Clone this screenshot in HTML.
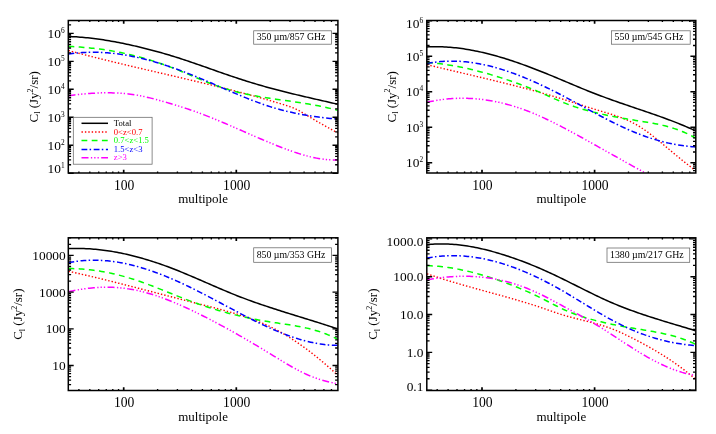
<!DOCTYPE html>
<html><head><meta charset="utf-8"><title>CIB power spectra</title>
<style>html,body{margin:0;padding:0;background:#fff;}svg{display:block;will-change:transform;}text{font-family:"Liberation Serif",serif;fill:#000;}</style></head><body>
<svg width="716" height="434" viewBox="0 0 716 434">
<rect x="0" y="0" width="716" height="434" fill="#fff"/>
<g id="panel1">
<clipPath id="clip1"><rect x="68.3" y="20.5" width="269.6" height="152.5"/></clipPath>
<g clip-path="url(#clip1)" fill="none" stroke-linejoin="round">
<path d="M68.5,36.52 L70.44,36.58 L72.37,36.66 L74.31,36.75 L76.25,36.86 L78.19,36.99 L80.12,37.13 L82.06,37.28 L84,37.45 L85.94,37.64 L87.87,37.83 L89.81,38.04 L91.75,38.26 L93.69,38.5 L95.62,38.75 L97.56,39.01 L99.5,39.28 L101.44,39.56 L103.37,39.86 L105.31,40.16 L107.25,40.48 L109.19,40.8 L111.12,41.14 L113.06,41.49 L115,41.85 L116.94,42.21 L118.87,42.59 L120.81,42.97 L122.75,43.36 L124.68,43.76 L126.62,44.17 L128.56,44.59 L130.5,45.01 L132.43,45.44 L134.37,45.88 L136.31,46.33 L138.25,46.78 L140.18,47.24 L142.12,47.71 L144.06,48.19 L146,48.67 L147.93,49.17 L149.87,49.67 L151.81,50.17 L153.75,50.69 L155.68,51.21 L157.62,51.74 L159.56,52.28 L161.5,52.83 L163.43,53.38 L165.37,53.95 L167.31,54.51 L169.25,55.09 L171.18,55.68 L173.12,56.27 L175.06,56.87 L176.99,57.48 L178.93,58.09 L180.87,58.72 L182.81,59.35 L184.74,59.99 L186.68,60.63 L188.62,61.28 L190.56,61.94 L192.49,62.6 L194.43,63.27 L196.37,63.94 L198.31,64.61 L200.24,65.29 L202.18,65.97 L204.12,66.65 L206.06,67.33 L207.99,68.01 L209.93,68.69 L211.87,69.38 L213.81,70.06 L215.74,70.74 L217.68,71.42 L219.62,72.1 L221.56,72.77 L223.49,73.44 L225.43,74.11 L227.37,74.78 L229.31,75.44 L231.24,76.09 L233.18,76.74 L235.12,77.39 L237.05,78.03 L238.99,78.67 L240.93,79.3 L242.87,79.93 L244.8,80.55 L246.74,81.17 L248.68,81.77 L250.62,82.38 L252.55,82.97 L254.49,83.56 L256.43,84.14 L258.37,84.71 L260.3,85.28 L262.24,85.84 L264.18,86.39 L266.12,86.93 L268.05,87.47 L269.99,88 L271.93,88.52 L273.87,89.04 L275.8,89.55 L277.74,90.06 L279.68,90.56 L281.62,91.05 L283.55,91.54 L285.49,92.03 L287.43,92.51 L289.36,92.99 L291.3,93.46 L293.24,93.93 L295.18,94.39 L297.11,94.86 L299.05,95.32 L300.99,95.77 L302.93,96.23 L304.86,96.68 L306.8,97.13 L308.74,97.58 L310.68,98.02 L312.61,98.47 L314.55,98.91 L316.49,99.36 L318.43,99.8 L320.36,100.24 L322.3,100.69 L324.24,101.13 L326.18,101.57 L328.11,102.02 L330.05,102.46 L331.99,102.91 L333.93,103.36 L335.86,103.81 L337.8,104.26" stroke="#000000" stroke-width="1.5"/>
<path d="M68.5,50.52 L70.44,51.04 L72.37,51.56 L74.31,52.08 L76.25,52.59 L78.19,53.1 L80.12,53.61 L82.06,54.11 L84,54.61 L85.94,55.11 L87.87,55.61 L89.81,56.11 L91.75,56.6 L93.69,57.09 L95.62,57.58 L97.56,58.06 L99.5,58.55 L101.44,59.03 L103.37,59.51 L105.31,59.98 L107.25,60.46 L109.19,60.93 L111.12,61.41 L113.06,61.88 L115,62.35 L116.94,62.81 L118.87,63.28 L120.81,63.74 L122.75,64.21 L124.68,64.67 L126.62,65.13 L128.56,65.59 L130.5,66.05 L132.43,66.5 L134.37,66.96 L136.31,67.42 L138.25,67.87 L140.18,68.32 L142.12,68.78 L144.06,69.23 L146,69.68 L147.93,70.13 L149.87,70.58 L151.81,71.04 L153.75,71.49 L155.68,71.94 L157.62,72.39 L159.56,72.84 L161.5,73.29 L163.43,73.74 L165.37,74.19 L167.31,74.64 L169.25,75.09 L171.18,75.54 L173.12,75.99 L175.06,76.44 L176.99,76.89 L178.93,77.35 L180.87,77.8 L182.81,78.25 L184.74,78.71 L186.68,79.16 L188.62,79.62 L190.56,80.08 L192.49,80.54 L194.43,81 L196.37,81.46 L198.31,81.92 L200.24,82.38 L202.18,82.85 L204.12,83.31 L206.06,83.78 L207.99,84.25 L209.93,84.72 L211.87,85.19 L213.81,85.67 L215.74,86.14 L217.68,86.62 L219.62,87.1 L221.56,87.58 L223.49,88.07 L225.43,88.55 L227.37,89.04 L229.31,89.53 L231.24,90.03 L233.18,90.52 L235.12,91.02 L237.05,91.52 L238.99,92.03 L240.93,92.54 L242.87,93.05 L244.8,93.56 L246.74,94.08 L248.68,94.6 L250.62,95.12 L252.55,95.65 L254.49,96.18 L256.43,96.71 L258.37,97.25 L260.3,97.79 L262.24,98.34 L264.18,98.89 L266.12,99.44 L268.05,100 L269.99,100.57 L271.93,101.13 L273.87,101.71 L275.8,102.28 L277.74,102.86 L279.68,103.45 L281.62,104.04 L283.55,104.64 L285.49,105.24 L287.43,105.86 L289.36,106.51 L291.3,107.2 L293.24,107.96 L295.18,108.78 L297.11,109.7 L299.05,110.71 L300.99,111.8 L302.93,112.94 L304.86,114.11 L306.8,115.29 L308.74,116.46 L310.68,117.62 L312.61,118.77 L314.55,119.9 L316.49,121.03 L318.43,122.15 L320.36,123.26 L322.3,124.36 L324.24,125.45 L326.18,126.54 L328.11,127.62 L330.05,128.7 L331.99,129.77 L333.93,130.84 L335.86,131.91 L337.8,132.98" stroke="#ff0000" stroke-width="1.4" stroke-dasharray="1.4 2.0"/>
<path d="M68.5,46.33 L70.44,46.43 L72.37,46.54 L74.31,46.65 L76.25,46.78 L78.19,46.91 L80.12,47.06 L82.06,47.21 L84,47.38 L85.94,47.55 L87.87,47.74 L89.81,47.93 L91.75,48.13 L93.69,48.35 L95.62,48.58 L97.56,48.82 L99.5,49.06 L101.44,49.32 L103.37,49.6 L105.31,49.88 L107.25,50.18 L109.19,50.48 L111.12,50.8 L113.06,51.13 L115,51.48 L116.94,51.84 L118.87,52.21 L120.81,52.59 L122.75,52.98 L124.68,53.39 L126.62,53.82 L128.56,54.25 L130.5,54.7 L132.43,55.17 L134.37,55.65 L136.31,56.14 L138.25,56.65 L140.18,57.17 L142.12,57.7 L144.06,58.26 L146,58.82 L147.93,59.4 L149.87,59.99 L151.81,60.6 L153.75,61.22 L155.68,61.85 L157.62,62.5 L159.56,63.16 L161.5,63.83 L163.43,64.51 L165.37,65.21 L167.31,65.92 L169.25,66.64 L171.18,67.37 L173.12,68.11 L175.06,68.87 L176.99,69.63 L178.93,70.41 L180.87,71.19 L182.81,71.99 L184.74,72.79 L186.68,73.6 L188.62,74.41 L190.56,75.23 L192.49,76.05 L194.43,76.87 L196.37,77.69 L198.31,78.51 L200.24,79.32 L202.18,80.12 L204.12,80.92 L206.06,81.7 L207.99,82.48 L209.93,83.24 L211.87,83.99 L213.81,84.73 L215.74,85.45 L217.68,86.14 L219.62,86.82 L221.56,87.48 L223.49,88.11 L225.43,88.72 L227.37,89.31 L229.31,89.88 L231.24,90.43 L233.18,90.96 L235.12,91.47 L237.05,91.96 L238.99,92.44 L240.93,92.9 L242.87,93.34 L244.8,93.77 L246.74,94.19 L248.68,94.59 L250.62,94.98 L252.55,95.36 L254.49,95.72 L256.43,96.08 L258.37,96.42 L260.3,96.75 L262.24,97.08 L264.18,97.4 L266.12,97.71 L268.05,98.01 L269.99,98.31 L271.93,98.6 L273.87,98.89 L275.8,99.17 L277.74,99.45 L279.68,99.73 L281.62,100.01 L283.55,100.29 L285.49,100.56 L287.43,100.84 L289.36,101.11 L291.3,101.39 L293.24,101.67 L295.18,101.95 L297.11,102.24 L299.05,102.53 L300.99,102.83 L302.93,103.13 L304.86,103.44 L306.8,103.76 L308.74,104.08 L310.68,104.41 L312.61,104.75 L314.55,105.11 L316.49,105.47 L318.43,105.84 L320.36,106.23 L322.3,106.63 L324.24,107.04 L326.18,107.47 L328.11,107.91 L330.05,108.36 L331.99,108.84 L333.93,109.33 L335.86,109.84 L337.8,110.36" stroke="#00ff00" stroke-width="1.5" stroke-dasharray="5.8 4.4"/>
<path d="M68.5,54.04 L70.44,53.76 L72.37,53.5 L74.31,53.27 L76.25,53.06 L78.19,52.88 L80.12,52.72 L82.06,52.58 L84,52.47 L85.94,52.38 L87.87,52.31 L89.81,52.27 L91.75,52.24 L93.69,52.24 L95.62,52.26 L97.56,52.3 L99.5,52.37 L101.44,52.45 L103.37,52.55 L105.31,52.68 L107.25,52.82 L109.19,52.98 L111.12,53.17 L113.06,53.37 L115,53.59 L116.94,53.83 L118.87,54.09 L120.81,54.37 L122.75,54.66 L124.68,54.97 L126.62,55.3 L128.56,55.65 L130.5,56.02 L132.43,56.4 L134.37,56.79 L136.31,57.21 L138.25,57.64 L140.18,58.08 L142.12,58.55 L144.06,59.02 L146,59.51 L147.93,60.02 L149.87,60.54 L151.81,61.07 L153.75,61.62 L155.68,62.19 L157.62,62.76 L159.56,63.35 L161.5,63.95 L163.43,64.57 L165.37,65.2 L167.31,65.84 L169.25,66.49 L171.18,67.15 L173.12,67.83 L175.06,68.51 L176.99,69.21 L178.93,69.92 L180.87,70.63 L182.81,71.36 L184.74,72.1 L186.68,72.85 L188.62,73.61 L190.56,74.37 L192.49,75.15 L194.43,75.93 L196.37,76.72 L198.31,77.53 L200.24,78.33 L202.18,79.15 L204.12,79.97 L206.06,80.79 L207.99,81.62 L209.93,82.46 L211.87,83.3 L213.81,84.14 L215.74,84.98 L217.68,85.82 L219.62,86.67 L221.56,87.51 L223.49,88.35 L225.43,89.19 L227.37,90.03 L229.31,90.87 L231.24,91.7 L233.18,92.53 L235.12,93.36 L237.05,94.18 L238.99,94.99 L240.93,95.79 L242.87,96.59 L244.8,97.38 L246.74,98.16 L248.68,98.94 L250.62,99.7 L252.55,100.45 L254.49,101.19 L256.43,101.92 L258.37,102.63 L260.3,103.33 L262.24,104.02 L264.18,104.69 L266.12,105.35 L268.05,105.99 L269.99,106.61 L271.93,107.22 L273.87,107.8 L275.8,108.37 L277.74,108.93 L279.68,109.46 L281.62,109.98 L283.55,110.48 L285.49,110.97 L287.43,111.44 L289.36,111.9 L291.3,112.33 L293.24,112.76 L295.18,113.17 L297.11,113.57 L299.05,113.95 L300.99,114.31 L302.93,114.67 L304.86,115.01 L306.8,115.34 L308.74,115.65 L310.68,115.96 L312.61,116.25 L314.55,116.53 L316.49,116.8 L318.43,117.06 L320.36,117.3 L322.3,117.54 L324.24,117.77 L326.18,117.98 L328.11,118.19 L330.05,118.39 L331.99,118.58 L333.93,118.76 L335.86,118.93 L337.8,119.09" stroke="#0000ff" stroke-width="1.5" stroke-dasharray="5.8 2.3 1.5 2.6"/>
<path d="M68.5,95.71 L70.44,95.45 L72.37,95.21 L74.31,94.97 L76.25,94.74 L78.19,94.52 L80.12,94.32 L82.06,94.12 L84,93.94 L85.94,93.77 L87.87,93.61 L89.81,93.46 L91.75,93.32 L93.69,93.2 L95.62,93.1 L97.56,93.01 L99.5,92.93 L101.44,92.87 L103.37,92.83 L105.31,92.81 L107.25,92.8 L109.19,92.81 L111.12,92.83 L113.06,92.88 L115,92.94 L116.94,93.03 L118.87,93.13 L120.81,93.26 L122.75,93.4 L124.68,93.57 L126.62,93.76 L128.56,93.97 L130.5,94.21 L132.43,94.47 L134.37,94.75 L136.31,95.06 L138.25,95.39 L140.18,95.75 L142.12,96.13 L144.06,96.54 L146,96.96 L147.93,97.41 L149.87,97.88 L151.81,98.36 L153.75,98.86 L155.68,99.37 L157.62,99.9 L159.56,100.43 L161.5,100.98 L163.43,101.53 L165.37,102.09 L167.31,102.65 L169.25,103.21 L171.18,103.78 L173.12,104.36 L175.06,104.95 L176.99,105.54 L178.93,106.14 L180.87,106.74 L182.81,107.36 L184.74,107.99 L186.68,108.62 L188.62,109.27 L190.56,109.92 L192.49,110.59 L194.43,111.27 L196.37,111.96 L198.31,112.67 L200.24,113.39 L202.18,114.11 L204.12,114.85 L206.06,115.6 L207.99,116.36 L209.93,117.13 L211.87,117.91 L213.81,118.7 L215.74,119.49 L217.68,120.29 L219.62,121.1 L221.56,121.92 L223.49,122.74 L225.43,123.56 L227.37,124.39 L229.31,125.23 L231.24,126.07 L233.18,126.91 L235.12,127.75 L237.05,128.6 L238.99,129.45 L240.93,130.29 L242.87,131.14 L244.8,131.99 L246.74,132.84 L248.68,133.69 L250.62,134.54 L252.55,135.38 L254.49,136.22 L256.43,137.06 L258.37,137.9 L260.3,138.73 L262.24,139.56 L264.18,140.38 L266.12,141.19 L268.05,142 L269.99,142.81 L271.93,143.6 L273.87,144.39 L275.8,145.17 L277.74,145.94 L279.68,146.7 L281.62,147.46 L283.55,148.2 L285.49,148.93 L287.43,149.65 L289.36,150.35 L291.3,151.04 L293.24,151.72 L295.18,152.38 L297.11,153.02 L299.05,153.64 L300.99,154.24 L302.93,154.81 L304.86,155.37 L306.8,155.9 L308.74,156.4 L310.68,156.88 L312.61,157.32 L314.55,157.74 L316.49,158.13 L318.43,158.48 L320.36,158.8 L322.3,159.09 L324.24,159.34 L326.18,159.55 L328.11,159.73 L330.05,159.86 L331.99,159.95 L333.93,160 L335.86,160.01 L337.8,159.97" stroke="#ff00ff" stroke-width="1.5" stroke-dasharray="7 2.4 1.3 2 1.3 2 1.3 2.4"/>
</g>
<path d="M78.89,173v-1.6M78.89,20.5v1.6M89.8,173v-1.6M89.8,20.5v1.6M98.72,173v-1.6M98.72,20.5v1.6M106.26,173v-1.6M106.26,20.5v1.6M112.79,173v-1.6M112.79,20.5v1.6M118.55,173v-1.6M118.55,20.5v1.6M157.6,173v-1.6M157.6,20.5v1.6M177.42,173v-1.6M177.42,20.5v1.6M191.49,173v-1.6M191.49,20.5v1.6M202.4,173v-1.6M202.4,20.5v1.6M211.32,173v-1.6M211.32,20.5v1.6M218.86,173v-1.6M218.86,20.5v1.6M225.39,173v-1.6M225.39,20.5v1.6M231.15,173v-1.6M231.15,20.5v1.6M270.2,173v-1.6M270.2,20.5v1.6M290.02,173v-1.6M290.02,20.5v1.6M304.09,173v-1.6M304.09,20.5v1.6M315,173v-1.6M315,20.5v1.6M323.92,173v-1.6M323.92,20.5v1.6M331.46,173v-1.6M331.46,20.5v1.6M68.3,173.2h5.4M337.9,173.2h-5.4M68.3,164.78h2.8M337.9,164.78h-2.8M68.3,159.85h2.8M337.9,159.85h-2.8M68.3,156.36h2.8M337.9,156.36h-2.8M68.3,153.65h2.8M337.9,153.65h-2.8M68.3,151.44h2.8M337.9,151.44h-2.8M68.3,149.56h2.8M337.9,149.56h-2.8M68.3,147.94h2.8M337.9,147.94h-2.8M68.3,146.51h2.8M337.9,146.51h-2.8M68.3,145.23h5.4M337.9,145.23h-5.4M68.3,136.81h2.8M337.9,136.81h-2.8M68.3,131.88h2.8M337.9,131.88h-2.8M68.3,128.39h2.8M337.9,128.39h-2.8M68.3,125.68h2.8M337.9,125.68h-2.8M68.3,123.47h2.8M337.9,123.47h-2.8M68.3,121.59h2.8M337.9,121.59h-2.8M68.3,119.97h2.8M337.9,119.97h-2.8M68.3,118.54h2.8M337.9,118.54h-2.8M68.3,117.26h5.4M337.9,117.26h-5.4M68.3,108.84h2.8M337.9,108.84h-2.8M68.3,103.91h2.8M337.9,103.91h-2.8M68.3,100.42h2.8M337.9,100.42h-2.8M68.3,97.71h2.8M337.9,97.71h-2.8M68.3,95.5h2.8M337.9,95.5h-2.8M68.3,93.62h2.8M337.9,93.62h-2.8M68.3,92h2.8M337.9,92h-2.8M68.3,90.57h2.8M337.9,90.57h-2.8M68.3,89.29h5.4M337.9,89.29h-5.4M68.3,80.87h2.8M337.9,80.87h-2.8M68.3,75.94h2.8M337.9,75.94h-2.8M68.3,72.45h2.8M337.9,72.45h-2.8M68.3,69.74h2.8M337.9,69.74h-2.8M68.3,67.53h2.8M337.9,67.53h-2.8M68.3,65.65h2.8M337.9,65.65h-2.8M68.3,64.03h2.8M337.9,64.03h-2.8M68.3,62.6h2.8M337.9,62.6h-2.8M68.3,61.32h5.4M337.9,61.32h-5.4M68.3,52.9h2.8M337.9,52.9h-2.8M68.3,47.97h2.8M337.9,47.97h-2.8M68.3,44.48h2.8M337.9,44.48h-2.8M68.3,41.77h2.8M337.9,41.77h-2.8M68.3,39.56h2.8M337.9,39.56h-2.8M68.3,37.68h2.8M337.9,37.68h-2.8M68.3,36.06h2.8M337.9,36.06h-2.8M68.3,34.63h2.8M337.9,34.63h-2.8M68.3,33.35h5.4M337.9,33.35h-5.4M68.3,24.93h2.8M337.9,24.93h-2.8" stroke="#000" stroke-width="1.35" fill="none"/>
<path d="M123.7,173v-3.2M123.7,20.5v3.2M236.3,173v-3.2M236.3,20.5v3.2" stroke="#000" stroke-width="1.7" fill="none"/>
<rect x="68.3" y="20.5" width="269.6" height="152.5" fill="none" stroke="#000" stroke-width="1.5"/>
<text transform="translate(124.1,189.9) scale(1,1.0)" font-size="13.6" text-anchor="middle">100</text>
<text transform="translate(236.7,189.9) scale(1,1.0)" font-size="13.6" text-anchor="middle">1000</text>
<text x="203.1" y="203.2" font-size="13.0" text-anchor="middle">multipole</text>
<text transform="translate(64.7,37.85) scale(1,0.98)" font-size="13.4" text-anchor="end">10<tspan font-size="7.4" dy="-5.0">6</tspan></text>
<text transform="translate(64.7,65.82) scale(1,0.98)" font-size="13.4" text-anchor="end">10<tspan font-size="7.4" dy="-5.0">5</tspan></text>
<text transform="translate(64.7,93.79) scale(1,0.98)" font-size="13.4" text-anchor="end">10<tspan font-size="7.4" dy="-5.0">4</tspan></text>
<text transform="translate(64.7,121.76) scale(1,0.98)" font-size="13.4" text-anchor="end">10<tspan font-size="7.4" dy="-5.0">3</tspan></text>
<text transform="translate(64.7,149.73) scale(1,0.98)" font-size="13.4" text-anchor="end">10<tspan font-size="7.4" dy="-5.0">2</tspan></text>
<text transform="translate(64.7,172.7) scale(1,0.98)" font-size="13.4" text-anchor="end">10<tspan font-size="7.4" dy="-5.0">1</tspan></text>
<text transform="translate(37.7,96.75) rotate(-90)" font-size="13.0" text-anchor="middle">C<tspan font-size="8" dy="2.6">l</tspan><tspan dy="-2.6"> (Jy</tspan><tspan font-size="8" dy="-5.2">2</tspan><tspan dy="5.2">/sr)</tspan></text>
<rect x="253.7" y="30.8" width="77.8" height="13.4" fill="#fff" stroke="#666" stroke-width="0.75"/>
<text x="256.7" y="40.2" font-size="9.8">350 µm/857 GHz</text>
<rect x="73.3" y="117.3" width="78.8" height="46.9" fill="#fff" stroke="#666" stroke-width="0.75"/>
<path d="M81.5,123.3H108" stroke="#000000" stroke-width="1.5" fill="none"/>
<text x="113.8" y="125.9" font-size="8.65" style="fill:#000000">Total</text>
<path d="M81.5,132H108" stroke="#ff0000" stroke-width="1.4" stroke-dasharray="1.4 2.0" fill="none"/>
<text x="113.8" y="134.6" font-size="8.65" style="fill:#ff0000">0&lt;z&lt;0.7</text>
<path d="M81.5,140.6H108" stroke="#00ff00" stroke-width="1.5" stroke-dasharray="5.8 4.4" fill="none"/>
<text x="113.8" y="143.2" font-size="8.65" style="fill:#00ff00">0.7&lt;z&lt;1.5</text>
<path d="M81.5,149.4H108" stroke="#0000ff" stroke-width="1.5" stroke-dasharray="5.8 2.3 1.5 2.6" fill="none"/>
<text x="113.8" y="152" font-size="8.65" style="fill:#0000ff">1.5&lt;z&lt;3</text>
<path d="M81.5,157.8H108" stroke="#ff00ff" stroke-width="1.5" stroke-dasharray="7 2.4 1.3 2 1.3 2 1.3 2.4" fill="none"/>
<text x="113.8" y="160.4" font-size="8.65" style="fill:#ff00ff">z&gt;3</text>
</g>
<g id="panel2">
<clipPath id="clip2"><rect x="426.8" y="20.5" width="269" height="152.5"/></clipPath>
<g clip-path="url(#clip2)" fill="none" stroke-linejoin="round">
<path d="M427,46.94 L428.93,46.85 L430.87,46.78 L432.8,46.74 L434.73,46.71 L436.67,46.71 L438.6,46.74 L440.53,46.78 L442.46,46.84 L444.4,46.93 L446.33,47.03 L448.26,47.16 L450.2,47.3 L452.13,47.47 L454.06,47.65 L456,47.86 L457.93,48.08 L459.86,48.32 L461.8,48.58 L463.73,48.86 L465.66,49.15 L467.59,49.47 L469.53,49.8 L471.46,50.14 L473.39,50.51 L475.33,50.89 L477.26,51.28 L479.19,51.69 L481.13,52.12 L483.06,52.56 L484.99,53.02 L486.93,53.49 L488.86,53.98 L490.79,54.48 L492.73,54.99 L494.66,55.52 L496.59,56.06 L498.52,56.61 L500.46,57.18 L502.39,57.75 L504.32,58.34 L506.26,58.95 L508.19,59.56 L510.12,60.18 L512.06,60.82 L513.99,61.47 L515.92,62.12 L517.86,62.79 L519.79,63.47 L521.72,64.15 L523.65,64.85 L525.59,65.55 L527.52,66.26 L529.45,66.98 L531.39,67.71 L533.32,68.45 L535.25,69.19 L537.19,69.95 L539.12,70.7 L541.05,71.47 L542.99,72.24 L544.92,73.02 L546.85,73.8 L548.78,74.59 L550.72,75.39 L552.65,76.18 L554.58,76.99 L556.52,77.8 L558.45,78.6 L560.38,79.42 L562.32,80.23 L564.25,81.05 L566.18,81.86 L568.12,82.68 L570.05,83.49 L571.98,84.3 L573.92,85.11 L575.85,85.92 L577.78,86.73 L579.71,87.53 L581.65,88.32 L583.58,89.12 L585.51,89.9 L587.45,90.68 L589.38,91.45 L591.31,92.22 L593.25,92.98 L595.18,93.73 L597.11,94.47 L599.05,95.21 L600.98,95.94 L602.91,96.67 L604.84,97.39 L606.78,98.1 L608.71,98.81 L610.64,99.51 L612.58,100.2 L614.51,100.89 L616.44,101.57 L618.38,102.24 L620.31,102.92 L622.24,103.58 L624.18,104.25 L626.11,104.91 L628.04,105.57 L629.97,106.22 L631.91,106.88 L633.84,107.53 L635.77,108.18 L637.71,108.84 L639.64,109.49 L641.57,110.14 L643.51,110.8 L645.44,111.46 L647.37,112.12 L649.31,112.78 L651.24,113.45 L653.17,114.12 L655.11,114.79 L657.04,115.47 L658.97,116.16 L660.9,116.85 L662.84,117.55 L664.77,118.25 L666.7,118.96 L668.64,119.68 L670.57,120.41 L672.5,121.15 L674.44,121.9 L676.37,122.66 L678.3,123.42 L680.24,124.2 L682.17,124.99 L684.1,125.8 L686.03,126.61 L687.97,127.44 L689.9,128.28 L691.83,129.14 L693.77,130.01 L695.7,130.9" stroke="#000000" stroke-width="1.5"/>
<path d="M427,64.69 L428.93,65.16 L430.87,65.62 L432.8,66.09 L434.73,66.55 L436.67,67.01 L438.6,67.47 L440.53,67.93 L442.46,68.39 L444.4,68.85 L446.33,69.3 L448.26,69.76 L450.2,70.21 L452.13,70.67 L454.06,71.12 L456,71.58 L457.93,72.03 L459.86,72.48 L461.8,72.93 L463.73,73.39 L465.66,73.84 L467.59,74.29 L469.53,74.75 L471.46,75.2 L473.39,75.66 L475.33,76.11 L477.26,76.57 L479.19,77.03 L481.13,77.48 L483.06,77.94 L484.99,78.4 L486.93,78.87 L488.86,79.33 L490.79,79.79 L492.73,80.26 L494.66,80.73 L496.59,81.2 L498.52,81.67 L500.46,82.14 L502.39,82.62 L504.32,83.1 L506.26,83.58 L508.19,84.06 L510.12,84.55 L512.06,85.04 L513.99,85.53 L515.92,86.02 L517.86,86.52 L519.79,87.02 L521.72,87.52 L523.65,88.03 L525.59,88.54 L527.52,89.05 L529.45,89.57 L531.39,90.09 L533.32,90.62 L535.25,91.14 L537.19,91.68 L539.12,92.21 L541.05,92.75 L542.99,93.3 L544.92,93.85 L546.85,94.4 L548.78,94.96 L550.72,95.53 L552.65,96.1 L554.58,96.67 L556.52,97.25 L558.45,97.83 L560.38,98.42 L562.32,99.02 L564.25,99.62 L566.18,100.22 L568.12,100.83 L570.05,101.44 L571.98,102.05 L573.92,102.67 L575.85,103.29 L577.78,103.91 L579.71,104.52 L581.65,105.14 L583.58,105.76 L585.51,106.37 L587.45,106.99 L589.38,107.6 L591.31,108.2 L593.25,108.81 L595.18,109.4 L597.11,109.99 L599.05,110.58 L600.98,111.16 L602.91,111.73 L604.84,112.31 L606.78,112.89 L608.71,113.47 L610.64,114.07 L612.58,114.68 L614.51,115.3 L616.44,115.95 L618.38,116.62 L620.31,117.32 L622.24,118.05 L624.18,118.82 L626.11,119.63 L628.04,120.47 L629.97,121.37 L631.91,122.31 L633.84,123.31 L635.77,124.36 L637.71,125.47 L639.64,126.65 L641.57,127.88 L643.51,129.17 L645.44,130.51 L647.37,131.89 L649.31,133.32 L651.24,134.78 L653.17,136.28 L655.11,137.81 L657.04,139.37 L658.97,140.94 L660.9,142.54 L662.84,144.15 L664.77,145.77 L666.7,147.4 L668.64,149.03 L670.57,150.65 L672.5,152.27 L674.44,153.88 L676.37,155.48 L678.3,157.06 L680.24,158.63 L682.17,160.18 L684.1,161.72 L686.03,163.26 L687.97,164.78 L689.9,166.3 L691.83,167.82 L693.77,169.33 L695.7,170.84" stroke="#ff0000" stroke-width="1.4" stroke-dasharray="1.4 2.0"/>
<path d="M427,62.55 L428.93,62.69 L430.87,62.84 L432.8,63.01 L434.73,63.2 L436.67,63.4 L438.6,63.61 L440.53,63.85 L442.46,64.09 L444.4,64.35 L446.33,64.63 L448.26,64.92 L450.2,65.23 L452.13,65.55 L454.06,65.88 L456,66.23 L457.93,66.59 L459.86,66.97 L461.8,67.36 L463.73,67.76 L465.66,68.17 L467.59,68.6 L469.53,69.04 L471.46,69.49 L473.39,69.95 L475.33,70.43 L477.26,70.92 L479.19,71.42 L481.13,71.93 L483.06,72.45 L484.99,72.98 L486.93,73.53 L488.86,74.08 L490.79,74.64 L492.73,75.22 L494.66,75.8 L496.59,76.4 L498.52,77 L500.46,77.62 L502.39,78.24 L504.32,78.87 L506.26,79.51 L508.19,80.16 L510.12,80.82 L512.06,81.49 L513.99,82.16 L515.92,82.85 L517.86,83.55 L519.79,84.26 L521.72,84.97 L523.65,85.7 L525.59,86.44 L527.52,87.19 L529.45,87.96 L531.39,88.73 L533.32,89.52 L535.25,90.31 L537.19,91.12 L539.12,91.94 L541.05,92.78 L542.99,93.62 L544.92,94.48 L546.85,95.35 L548.78,96.22 L550.72,97.09 L552.65,97.96 L554.58,98.82 L556.52,99.67 L558.45,100.51 L560.38,101.33 L562.32,102.12 L564.25,102.9 L566.18,103.65 L568.12,104.38 L570.05,105.09 L571.98,105.78 L573.92,106.44 L575.85,107.09 L577.78,107.72 L579.71,108.33 L581.65,108.92 L583.58,109.49 L585.51,110.05 L587.45,110.59 L589.38,111.11 L591.31,111.62 L593.25,112.12 L595.18,112.6 L597.11,113.07 L599.05,113.52 L600.98,113.96 L602.91,114.39 L604.84,114.81 L606.78,115.21 L608.71,115.61 L610.64,116 L612.58,116.38 L614.51,116.75 L616.44,117.11 L618.38,117.46 L620.31,117.81 L622.24,118.15 L624.18,118.49 L626.11,118.82 L628.04,119.14 L629.97,119.46 L631.91,119.78 L633.84,120.1 L635.77,120.41 L637.71,120.72 L639.64,121.03 L641.57,121.34 L643.51,121.65 L645.44,121.97 L647.37,122.3 L649.31,122.63 L651.24,122.97 L653.17,123.33 L655.11,123.7 L657.04,124.09 L658.97,124.49 L660.9,124.92 L662.84,125.36 L664.77,125.83 L666.7,126.33 L668.64,126.85 L670.57,127.4 L672.5,127.99 L674.44,128.6 L676.37,129.26 L678.3,129.95 L680.24,130.68 L682.17,131.44 L684.1,132.26 L686.03,133.11 L687.97,134.02 L689.9,134.97 L691.83,135.97 L693.77,137.03 L695.7,138.13" stroke="#00ff00" stroke-width="1.5" stroke-dasharray="5.8 4.4"/>
<path d="M427,63.49 L428.93,63.13 L430.87,62.79 L432.8,62.49 L434.73,62.22 L436.67,61.98 L438.6,61.77 L440.53,61.59 L442.46,61.44 L444.4,61.32 L446.33,61.23 L448.26,61.17 L450.2,61.13 L452.13,61.13 L454.06,61.15 L456,61.19 L457.93,61.27 L459.86,61.37 L461.8,61.5 L463.73,61.65 L465.66,61.83 L467.59,62.04 L469.53,62.27 L471.46,62.52 L473.39,62.8 L475.33,63.1 L477.26,63.42 L479.19,63.77 L481.13,64.14 L483.06,64.53 L484.99,64.95 L486.93,65.39 L488.86,65.84 L490.79,66.32 L492.73,66.82 L494.66,67.34 L496.59,67.88 L498.52,68.44 L500.46,69.02 L502.39,69.61 L504.32,70.23 L506.26,70.86 L508.19,71.51 L510.12,72.18 L512.06,72.87 L513.99,73.57 L515.92,74.29 L517.86,75.02 L519.79,75.77 L521.72,76.54 L523.65,77.32 L525.59,78.11 L527.52,78.92 L529.45,79.75 L531.39,80.58 L533.32,81.43 L535.25,82.3 L537.19,83.17 L539.12,84.06 L541.05,84.96 L542.99,85.87 L544.92,86.79 L546.85,87.72 L548.78,88.67 L550.72,89.62 L552.65,90.58 L554.58,91.55 L556.52,92.53 L558.45,93.52 L560.38,94.52 L562.32,95.53 L564.25,96.54 L566.18,97.56 L568.12,98.59 L570.05,99.62 L571.98,100.65 L573.92,101.69 L575.85,102.74 L577.78,103.78 L579.71,104.83 L581.65,105.87 L583.58,106.92 L585.51,107.97 L587.45,109.02 L589.38,110.06 L591.31,111.11 L593.25,112.14 L595.18,113.18 L597.11,114.21 L599.05,115.24 L600.98,116.26 L602.91,117.27 L604.84,118.28 L606.78,119.27 L608.71,120.26 L610.64,121.24 L612.58,122.21 L614.51,123.17 L616.44,124.11 L618.38,125.05 L620.31,125.97 L622.24,126.87 L624.18,127.77 L626.11,128.64 L628.04,129.51 L629.97,130.35 L631.91,131.18 L633.84,131.99 L635.77,132.78 L637.71,133.55 L639.64,134.3 L641.57,135.03 L643.51,135.75 L645.44,136.44 L647.37,137.11 L649.31,137.76 L651.24,138.39 L653.17,139 L655.11,139.58 L657.04,140.15 L658.97,140.7 L660.9,141.22 L662.84,141.72 L664.77,142.21 L666.7,142.67 L668.64,143.11 L670.57,143.52 L672.5,143.92 L674.44,144.29 L676.37,144.65 L678.3,144.98 L680.24,145.28 L682.17,145.57 L684.1,145.83 L686.03,146.07 L687.97,146.29 L689.9,146.49 L691.83,146.66 L693.77,146.81 L695.7,146.94" stroke="#0000ff" stroke-width="1.5" stroke-dasharray="5.8 2.3 1.5 2.6"/>
<path d="M427,102.29 L428.68,101.92 L430.35,101.56 L432.03,101.22 L433.71,100.9 L435.38,100.6 L437.06,100.32 L438.73,100.06 L440.41,99.81 L442.09,99.59 L443.76,99.38 L445.44,99.19 L447.12,99.01 L448.79,98.86 L450.47,98.72 L452.14,98.6 L453.82,98.5 L455.5,98.42 L457.17,98.35 L458.85,98.3 L460.53,98.27 L462.2,98.26 L463.88,98.27 L465.55,98.29 L467.23,98.33 L468.91,98.39 L470.58,98.46 L472.26,98.55 L473.94,98.66 L475.61,98.79 L477.29,98.94 L478.96,99.1 L480.64,99.27 L482.32,99.47 L483.99,99.68 L485.67,99.91 L487.35,100.16 L489.02,100.42 L490.7,100.7 L492.37,101 L494.05,101.31 L495.73,101.64 L497.4,101.99 L499.08,102.35 L500.76,102.73 L502.43,103.13 L504.11,103.54 L505.78,103.97 L507.46,104.42 L509.14,104.88 L510.81,105.36 L512.49,105.85 L514.17,106.36 L515.84,106.89 L517.52,107.43 L519.19,107.99 L520.87,108.56 L522.55,109.15 L524.22,109.76 L525.9,110.38 L527.58,111.02 L529.25,111.67 L530.93,112.34 L532.6,113.02 L534.28,113.72 L535.96,114.43 L537.63,115.15 L539.31,115.89 L540.99,116.63 L542.66,117.39 L544.34,118.16 L546.01,118.95 L547.69,119.74 L549.37,120.54 L551.04,121.36 L552.72,122.18 L554.4,123.01 L556.07,123.86 L557.75,124.71 L559.42,125.56 L561.1,126.43 L562.78,127.3 L564.45,128.18 L566.13,129.07 L567.81,129.96 L569.48,130.86 L571.16,131.76 L572.83,132.67 L574.51,133.58 L576.19,134.5 L577.86,135.42 L579.54,136.34 L581.22,137.27 L582.89,138.19 L584.57,139.12 L586.24,140.06 L587.92,140.99 L589.6,141.93 L591.27,142.86 L592.95,143.8 L594.63,144.74 L596.3,145.68 L597.98,146.61 L599.65,147.55 L601.33,148.49 L603.01,149.43 L604.68,150.38 L606.36,151.32 L608.04,152.26 L609.71,153.2 L611.39,154.14 L613.06,155.08 L614.74,156.02 L616.42,156.96 L618.09,157.9 L619.77,158.84 L621.45,159.77 L623.12,160.71 L624.8,161.65 L626.47,162.58 L628.15,163.51 L629.83,164.45 L631.5,165.38 L633.18,166.31 L634.86,167.23 L636.53,168.16 L638.21,169.08 L639.88,170.01 L641.56,170.93 L643.24,171.85 L644.91,172.76 L646.59,173.68 L648.27,174.59 L649.94,175.5 L651.62,176.4 L653.29,177.31 L654.97,178.21 L656.65,179.11 L658.32,180 L660,180.9" stroke="#ff00ff" stroke-width="1.5" stroke-dasharray="7 2.4 1.3 2 1.3 2 1.3 2.4"/>
</g>
<path d="M437.19,173v-1.6M437.19,20.5v1.6M448.1,173v-1.6M448.1,20.5v1.6M457.02,173v-1.6M457.02,20.5v1.6M464.56,173v-1.6M464.56,20.5v1.6M471.09,173v-1.6M471.09,20.5v1.6M476.85,173v-1.6M476.85,20.5v1.6M515.9,173v-1.6M515.9,20.5v1.6M535.72,173v-1.6M535.72,20.5v1.6M549.79,173v-1.6M549.79,20.5v1.6M560.7,173v-1.6M560.7,20.5v1.6M569.62,173v-1.6M569.62,20.5v1.6M577.16,173v-1.6M577.16,20.5v1.6M583.69,173v-1.6M583.69,20.5v1.6M589.45,173v-1.6M589.45,20.5v1.6M628.5,173v-1.6M628.5,20.5v1.6M648.32,173v-1.6M648.32,20.5v1.6M662.39,173v-1.6M662.39,20.5v1.6M673.3,173v-1.6M673.3,20.5v1.6M682.22,173v-1.6M682.22,20.5v1.6M689.76,173v-1.6M689.76,20.5v1.6M426.8,170.58h2.8M695.8,170.58h-2.8M426.8,168.2h2.8M695.8,168.2h-2.8M426.8,166.14h2.8M695.8,166.14h-2.8M426.8,164.32h2.8M695.8,164.32h-2.8M426.8,162.7h5.4M695.8,162.7h-5.4M426.8,152.01h2.8M695.8,152.01h-2.8M426.8,145.76h2.8M695.8,145.76h-2.8M426.8,141.33h2.8M695.8,141.33h-2.8M426.8,137.89h2.8M695.8,137.89h-2.8M426.8,135.08h2.8M695.8,135.08h-2.8M426.8,132.7h2.8M695.8,132.7h-2.8M426.8,130.64h2.8M695.8,130.64h-2.8M426.8,128.82h2.8M695.8,128.82h-2.8M426.8,127.2h5.4M695.8,127.2h-5.4M426.8,116.51h2.8M695.8,116.51h-2.8M426.8,110.26h2.8M695.8,110.26h-2.8M426.8,105.83h2.8M695.8,105.83h-2.8M426.8,102.39h2.8M695.8,102.39h-2.8M426.8,99.58h2.8M695.8,99.58h-2.8M426.8,97.2h2.8M695.8,97.2h-2.8M426.8,95.14h2.8M695.8,95.14h-2.8M426.8,93.32h2.8M695.8,93.32h-2.8M426.8,91.7h5.4M695.8,91.7h-5.4M426.8,81.01h2.8M695.8,81.01h-2.8M426.8,74.76h2.8M695.8,74.76h-2.8M426.8,70.33h2.8M695.8,70.33h-2.8M426.8,66.89h2.8M695.8,66.89h-2.8M426.8,64.08h2.8M695.8,64.08h-2.8M426.8,61.7h2.8M695.8,61.7h-2.8M426.8,59.64h2.8M695.8,59.64h-2.8M426.8,57.82h2.8M695.8,57.82h-2.8M426.8,56.2h5.4M695.8,56.2h-5.4M426.8,45.51h2.8M695.8,45.51h-2.8M426.8,39.26h2.8M695.8,39.26h-2.8M426.8,34.83h2.8M695.8,34.83h-2.8M426.8,31.39h2.8M695.8,31.39h-2.8M426.8,28.58h2.8M695.8,28.58h-2.8M426.8,26.2h2.8M695.8,26.2h-2.8M426.8,24.14h2.8M695.8,24.14h-2.8M426.8,22.32h2.8M695.8,22.32h-2.8M426.8,20.7h5.4M695.8,20.7h-5.4" stroke="#000" stroke-width="1.35" fill="none"/>
<path d="M482,173v-3.2M482,20.5v3.2M594.6,173v-3.2M594.6,20.5v3.2" stroke="#000" stroke-width="1.7" fill="none"/>
<rect x="426.8" y="20.5" width="269" height="152.5" fill="none" stroke="#000" stroke-width="1.5"/>
<text transform="translate(482.4,189.9) scale(1,1.0)" font-size="13.6" text-anchor="middle">100</text>
<text transform="translate(595,189.9) scale(1,1.0)" font-size="13.6" text-anchor="middle">1000</text>
<text x="561.3" y="203.2" font-size="13.0" text-anchor="middle">multipole</text>
<text transform="translate(423.2,28.3) scale(1,0.98)" font-size="13.4" text-anchor="end">10<tspan font-size="7.4" dy="-5.0">6</tspan></text>
<text transform="translate(423.2,60.7) scale(1,0.98)" font-size="13.4" text-anchor="end">10<tspan font-size="7.4" dy="-5.0">5</tspan></text>
<text transform="translate(423.2,96.2) scale(1,0.98)" font-size="13.4" text-anchor="end">10<tspan font-size="7.4" dy="-5.0">4</tspan></text>
<text transform="translate(423.2,131.7) scale(1,0.98)" font-size="13.4" text-anchor="end">10<tspan font-size="7.4" dy="-5.0">3</tspan></text>
<text transform="translate(423.2,167.2) scale(1,0.98)" font-size="13.4" text-anchor="end">10<tspan font-size="7.4" dy="-5.0">2</tspan></text>
<text transform="translate(395.5,96.75) rotate(-90)" font-size="13.0" text-anchor="middle">C<tspan font-size="8" dy="2.6">l</tspan><tspan dy="-2.6"> (Jy</tspan><tspan font-size="8" dy="-5.2">2</tspan><tspan dy="5.2">/sr)</tspan></text>
<rect x="611.6" y="30.8" width="78.6" height="13.4" fill="#fff" stroke="#666" stroke-width="0.75"/>
<text x="614.6" y="40.2" font-size="9.8">550 µm/545 GHz</text>
</g>
<g id="panel3">
<clipPath id="clip3"><rect x="68.3" y="237.8" width="269.6" height="152.7"/></clipPath>
<g clip-path="url(#clip3)" fill="none" stroke-linejoin="round">
<path d="M68.5,248.57 L70.44,248.5 L72.37,248.45 L74.31,248.42 L76.25,248.41 L78.19,248.42 L80.12,248.45 L82.06,248.49 L84,248.56 L85.94,248.64 L87.87,248.74 L89.81,248.86 L91.75,249 L93.69,249.15 L95.62,249.32 L97.56,249.51 L99.5,249.72 L101.44,249.94 L103.37,250.18 L105.31,250.44 L107.25,250.71 L109.19,251 L111.12,251.31 L113.06,251.63 L115,251.97 L116.94,252.32 L118.87,252.69 L120.81,253.08 L122.75,253.48 L124.68,253.89 L126.62,254.32 L128.56,254.77 L130.5,255.23 L132.43,255.71 L134.37,256.2 L136.31,256.7 L138.25,257.22 L140.18,257.75 L142.12,258.29 L144.06,258.85 L146,259.43 L147.93,260.01 L149.87,260.61 L151.81,261.22 L153.75,261.85 L155.68,262.49 L157.62,263.14 L159.56,263.8 L161.5,264.47 L163.43,265.16 L165.37,265.86 L167.31,266.57 L169.25,267.29 L171.18,268.02 L173.12,268.77 L175.06,269.52 L176.99,270.29 L178.93,271.07 L180.87,271.85 L182.81,272.64 L184.74,273.44 L186.68,274.25 L188.62,275.07 L190.56,275.89 L192.49,276.71 L194.43,277.54 L196.37,278.38 L198.31,279.22 L200.24,280.06 L202.18,280.9 L204.12,281.74 L206.06,282.59 L207.99,283.43 L209.93,284.28 L211.87,285.12 L213.81,285.96 L215.74,286.8 L217.68,287.64 L219.62,288.47 L221.56,289.3 L223.49,290.12 L225.43,290.93 L227.37,291.75 L229.31,292.55 L231.24,293.34 L233.18,294.13 L235.12,294.91 L237.05,295.68 L238.99,296.43 L240.93,297.18 L242.87,297.92 L244.8,298.65 L246.74,299.37 L248.68,300.08 L250.62,300.79 L252.55,301.48 L254.49,302.17 L256.43,302.85 L258.37,303.53 L260.3,304.2 L262.24,304.86 L264.18,305.51 L266.12,306.16 L268.05,306.81 L269.99,307.45 L271.93,308.08 L273.87,308.71 L275.8,309.33 L277.74,309.96 L279.68,310.57 L281.62,311.19 L283.55,311.8 L285.49,312.41 L287.43,313.02 L289.36,313.62 L291.3,314.22 L293.24,314.83 L295.18,315.43 L297.11,316.03 L299.05,316.62 L300.99,317.22 L302.93,317.82 L304.86,318.42 L306.8,319.02 L308.74,319.62 L310.68,320.23 L312.61,320.83 L314.55,321.44 L316.49,322.04 L318.43,322.65 L320.36,323.27 L322.3,323.89 L324.24,324.51 L326.18,325.13 L328.11,325.76 L330.05,326.39 L331.99,327.03 L333.93,327.67 L335.86,328.32 L337.8,328.97" stroke="#000000" stroke-width="1.5"/>
<path d="M68.5,271.27 L70.44,271.7 L72.37,272.12 L74.31,272.56 L76.25,272.99 L78.19,273.43 L80.12,273.87 L82.06,274.31 L84,274.76 L85.94,275.21 L87.87,275.66 L89.81,276.12 L91.75,276.58 L93.69,277.04 L95.62,277.51 L97.56,277.97 L99.5,278.44 L101.44,278.91 L103.37,279.39 L105.31,279.86 L107.25,280.34 L109.19,280.82 L111.12,281.31 L113.06,281.79 L115,282.28 L116.94,282.76 L118.87,283.25 L120.81,283.75 L122.75,284.24 L124.68,284.73 L126.62,285.23 L128.56,285.72 L130.5,286.22 L132.43,286.72 L134.37,287.22 L136.31,287.72 L138.25,288.22 L140.18,288.73 L142.12,289.23 L144.06,289.73 L146,290.24 L147.93,290.74 L149.87,291.25 L151.81,291.75 L153.75,292.26 L155.68,292.76 L157.62,293.27 L159.56,293.77 L161.5,294.28 L163.43,294.78 L165.37,295.29 L167.31,295.79 L169.25,296.3 L171.18,296.8 L173.12,297.3 L175.06,297.8 L176.99,298.31 L178.93,298.81 L180.87,299.31 L182.81,299.8 L184.74,300.3 L186.68,300.8 L188.62,301.29 L190.56,301.79 L192.49,302.28 L194.43,302.77 L196.37,303.26 L198.31,303.74 L200.24,304.23 L202.18,304.72 L204.12,305.21 L206.06,305.69 L207.99,306.18 L209.93,306.68 L211.87,307.17 L213.81,307.67 L215.74,308.17 L217.68,308.68 L219.62,309.19 L221.56,309.71 L223.49,310.24 L225.43,310.77 L227.37,311.31 L229.31,311.86 L231.24,312.42 L233.18,312.99 L235.12,313.57 L237.05,314.16 L238.99,314.76 L240.93,315.37 L242.87,315.99 L244.8,316.63 L246.74,317.29 L248.68,317.95 L250.62,318.64 L252.55,319.34 L254.49,320.06 L256.43,320.79 L258.37,321.55 L260.3,322.33 L262.24,323.14 L264.18,323.97 L266.12,324.82 L268.05,325.7 L269.99,326.61 L271.93,327.55 L273.87,328.52 L275.8,329.52 L277.74,330.55 L279.68,331.6 L281.62,332.69 L283.55,333.8 L285.49,334.95 L287.43,336.12 L289.36,337.31 L291.3,338.54 L293.24,339.79 L295.18,341.07 L297.11,342.38 L299.05,343.71 L300.99,345.07 L302.93,346.45 L304.86,347.86 L306.8,349.29 L308.74,350.75 L310.68,352.23 L312.61,353.74 L314.55,355.27 L316.49,356.83 L318.43,358.4 L320.36,360 L322.3,361.63 L324.24,363.27 L326.18,364.94 L328.11,366.63 L330.05,368.34 L331.99,370.07 L333.93,371.82 L335.86,373.59 L337.8,375.39" stroke="#ff0000" stroke-width="1.4" stroke-dasharray="1.4 2.0"/>
<path d="M68.5,268.53 L70.44,268.55 L72.37,268.59 L74.31,268.65 L76.25,268.73 L78.19,268.82 L80.12,268.94 L82.06,269.07 L84,269.22 L85.94,269.4 L87.87,269.59 L89.81,269.79 L91.75,270.02 L93.69,270.26 L95.62,270.53 L97.56,270.81 L99.5,271.11 L101.44,271.43 L103.37,271.77 L105.31,272.12 L107.25,272.49 L109.19,272.88 L111.12,273.29 L113.06,273.72 L115,274.17 L116.94,274.63 L118.87,275.11 L120.81,275.61 L122.75,276.13 L124.68,276.66 L126.62,277.21 L128.56,277.78 L130.5,278.37 L132.43,278.97 L134.37,279.6 L136.31,280.23 L138.25,280.89 L140.18,281.56 L142.12,282.24 L144.06,282.93 L146,283.64 L147.93,284.36 L149.87,285.09 L151.81,285.82 L153.75,286.57 L155.68,287.32 L157.62,288.08 L159.56,288.84 L161.5,289.61 L163.43,290.39 L165.37,291.16 L167.31,291.94 L169.25,292.72 L171.18,293.5 L173.12,294.28 L175.06,295.06 L176.99,295.83 L178.93,296.6 L180.87,297.37 L182.81,298.13 L184.74,298.89 L186.68,299.63 L188.62,300.38 L190.56,301.11 L192.49,301.83 L194.43,302.54 L196.37,303.24 L198.31,303.93 L200.24,304.61 L202.18,305.27 L204.12,305.93 L206.06,306.57 L207.99,307.2 L209.93,307.82 L211.87,308.43 L213.81,309.03 L215.74,309.61 L217.68,310.19 L219.62,310.75 L221.56,311.31 L223.49,311.85 L225.43,312.38 L227.37,312.91 L229.31,313.42 L231.24,313.92 L233.18,314.41 L235.12,314.89 L237.05,315.36 L238.99,315.82 L240.93,316.27 L242.87,316.72 L244.8,317.15 L246.74,317.57 L248.68,317.98 L250.62,318.39 L252.55,318.78 L254.49,319.17 L256.43,319.54 L258.37,319.91 L260.3,320.27 L262.24,320.62 L264.18,320.96 L266.12,321.29 L268.05,321.61 L269.99,321.92 L271.93,322.23 L273.87,322.53 L275.8,322.82 L277.74,323.11 L279.68,323.4 L281.62,323.68 L283.55,323.97 L285.49,324.26 L287.43,324.55 L289.36,324.85 L291.3,325.16 L293.24,325.47 L295.18,325.8 L297.11,326.15 L299.05,326.5 L300.99,326.88 L302.93,327.27 L304.86,327.69 L306.8,328.12 L308.74,328.58 L310.68,329.07 L312.61,329.58 L314.55,330.12 L316.49,330.7 L318.43,331.3 L320.36,331.94 L322.3,332.61 L324.24,333.32 L326.18,334.06 L328.11,334.84 L330.05,335.67 L331.99,336.53 L333.93,337.44 L335.86,338.4 L337.8,339.4" stroke="#00ff00" stroke-width="1.5" stroke-dasharray="5.8 4.4"/>
<path d="M68.5,262.71 L70.44,262.33 L72.37,261.98 L74.31,261.66 L76.25,261.38 L78.19,261.13 L80.12,260.91 L82.06,260.71 L84,260.55 L85.94,260.42 L87.87,260.32 L89.81,260.25 L91.75,260.2 L93.69,260.18 L95.62,260.2 L97.56,260.23 L99.5,260.3 L101.44,260.39 L103.37,260.51 L105.31,260.66 L107.25,260.83 L109.19,261.03 L111.12,261.25 L113.06,261.5 L115,261.77 L116.94,262.06 L118.87,262.38 L120.81,262.72 L122.75,263.09 L124.68,263.47 L126.62,263.88 L128.56,264.31 L130.5,264.77 L132.43,265.24 L134.37,265.73 L136.31,266.25 L138.25,266.78 L140.18,267.34 L142.12,267.91 L144.06,268.5 L146,269.12 L147.93,269.74 L149.87,270.39 L151.81,271.06 L153.75,271.74 L155.68,272.44 L157.62,273.15 L159.56,273.88 L161.5,274.63 L163.43,275.39 L165.37,276.17 L167.31,276.96 L169.25,277.77 L171.18,278.59 L173.12,279.42 L175.06,280.27 L176.99,281.13 L178.93,282 L180.87,282.88 L182.81,283.78 L184.74,284.68 L186.68,285.6 L188.62,286.53 L190.56,287.47 L192.49,288.42 L194.43,289.38 L196.37,290.35 L198.31,291.32 L200.24,292.31 L202.18,293.3 L204.12,294.3 L206.06,295.3 L207.99,296.32 L209.93,297.33 L211.87,298.35 L213.81,299.38 L215.74,300.4 L217.68,301.44 L219.62,302.47 L221.56,303.5 L223.49,304.54 L225.43,305.57 L227.37,306.61 L229.31,307.64 L231.24,308.67 L233.18,309.7 L235.12,310.73 L237.05,311.75 L238.99,312.77 L240.93,313.79 L242.87,314.8 L244.8,315.8 L246.74,316.8 L248.68,317.79 L250.62,318.78 L252.55,319.75 L254.49,320.72 L256.43,321.68 L258.37,322.62 L260.3,323.56 L262.24,324.48 L264.18,325.4 L266.12,326.3 L268.05,327.18 L269.99,328.06 L271.93,328.92 L273.87,329.76 L275.8,330.59 L277.74,331.4 L279.68,332.2 L281.62,332.98 L283.55,333.74 L285.49,334.48 L287.43,335.21 L289.36,335.91 L291.3,336.59 L293.24,337.25 L295.18,337.9 L297.11,338.51 L299.05,339.11 L300.99,339.68 L302.93,340.23 L304.86,340.75 L306.8,341.25 L308.74,341.72 L310.68,342.17 L312.61,342.59 L314.55,342.98 L316.49,343.35 L318.43,343.68 L320.36,343.98 L322.3,344.26 L324.24,344.5 L326.18,344.72 L328.11,344.9 L330.05,345.05 L331.99,345.16 L333.93,345.25 L335.86,345.29 L337.8,345.31" stroke="#0000ff" stroke-width="1.5" stroke-dasharray="5.8 2.3 1.5 2.6"/>
<path d="M68.5,291.77 L70.44,291.34 L72.37,290.92 L74.31,290.52 L76.25,290.14 L78.19,289.79 L80.12,289.46 L82.06,289.15 L84,288.86 L85.94,288.6 L87.87,288.36 L89.81,288.14 L91.75,287.94 L93.69,287.77 L95.62,287.62 L97.56,287.49 L99.5,287.39 L101.44,287.31 L103.37,287.26 L105.31,287.23 L107.25,287.23 L109.19,287.25 L111.12,287.3 L113.06,287.37 L115,287.47 L116.94,287.59 L118.87,287.74 L120.81,287.91 L122.75,288.12 L124.68,288.35 L126.62,288.6 L128.56,288.88 L130.5,289.19 L132.43,289.53 L134.37,289.9 L136.31,290.29 L138.25,290.71 L140.18,291.15 L142.12,291.62 L144.06,292.11 L146,292.63 L147.93,293.17 L149.87,293.73 L151.81,294.32 L153.75,294.93 L155.68,295.55 L157.62,296.2 L159.56,296.87 L161.5,297.56 L163.43,298.27 L165.37,298.99 L167.31,299.74 L169.25,300.5 L171.18,301.28 L173.12,302.07 L175.06,302.88 L176.99,303.7 L178.93,304.54 L180.87,305.39 L182.81,306.25 L184.74,307.13 L186.68,308.02 L188.62,308.92 L190.56,309.83 L192.49,310.75 L194.43,311.68 L196.37,312.62 L198.31,313.57 L200.24,314.52 L202.18,315.49 L204.12,316.46 L206.06,317.45 L207.99,318.44 L209.93,319.43 L211.87,320.44 L213.81,321.45 L215.74,322.47 L217.68,323.5 L219.62,324.54 L221.56,325.58 L223.49,326.63 L225.43,327.69 L227.37,328.76 L229.31,329.83 L231.24,330.9 L233.18,331.99 L235.12,333.08 L237.05,334.18 L238.99,335.28 L240.93,336.39 L242.87,337.5 L244.8,338.62 L246.74,339.75 L248.68,340.88 L250.62,342.02 L252.55,343.16 L254.49,344.31 L256.43,345.46 L258.37,346.62 L260.3,347.78 L262.24,348.94 L264.18,350.11 L266.12,351.29 L268.05,352.47 L269.99,353.65 L271.93,354.84 L273.87,356.03 L275.8,357.22 L277.74,358.41 L279.68,359.6 L281.62,360.78 L283.55,361.95 L285.49,363.11 L287.43,364.26 L289.36,365.39 L291.3,366.51 L293.24,367.6 L295.18,368.67 L297.11,369.72 L299.05,370.74 L300.99,371.73 L302.93,372.69 L304.86,373.61 L306.8,374.5 L308.74,375.35 L310.68,376.15 L312.61,376.92 L314.55,377.65 L316.49,378.33 L318.43,378.98 L320.36,379.6 L322.3,380.18 L324.24,380.73 L326.18,381.24 L328.11,381.73 L330.05,382.19 L331.99,382.62 L333.93,383.03 L335.86,383.42 L337.8,383.78" stroke="#ff00ff" stroke-width="1.5" stroke-dasharray="7 2.4 1.3 2 1.3 2 1.3 2.4"/>
</g>
<path d="M78.89,390.5v-1.6M78.89,237.8v1.6M89.8,390.5v-1.6M89.8,237.8v1.6M98.72,390.5v-1.6M98.72,237.8v1.6M106.26,390.5v-1.6M106.26,237.8v1.6M112.79,390.5v-1.6M112.79,237.8v1.6M118.55,390.5v-1.6M118.55,237.8v1.6M157.6,390.5v-1.6M157.6,237.8v1.6M177.42,390.5v-1.6M177.42,237.8v1.6M191.49,390.5v-1.6M191.49,237.8v1.6M202.4,390.5v-1.6M202.4,237.8v1.6M211.32,390.5v-1.6M211.32,237.8v1.6M218.86,390.5v-1.6M218.86,237.8v1.6M225.39,390.5v-1.6M225.39,237.8v1.6M231.15,390.5v-1.6M231.15,237.8v1.6M270.2,390.5v-1.6M270.2,237.8v1.6M290.02,390.5v-1.6M290.02,237.8v1.6M304.09,390.5v-1.6M304.09,237.8v1.6M315,390.5v-1.6M315,237.8v1.6M323.92,390.5v-1.6M323.92,237.8v1.6M331.46,390.5v-1.6M331.46,237.8v1.6M68.3,384.69h2.8M337.9,384.69h-2.8M68.3,380.1h2.8M337.9,380.1h-2.8M68.3,376.55h2.8M337.9,376.55h-2.8M68.3,373.64h2.8M337.9,373.64h-2.8M68.3,371.18h2.8M337.9,371.18h-2.8M68.3,369.06h2.8M337.9,369.06h-2.8M68.3,367.18h2.8M337.9,367.18h-2.8M68.3,365.5h5.4M337.9,365.5h-5.4M68.3,354.45h2.8M337.9,354.45h-2.8M68.3,347.99h2.8M337.9,347.99h-2.8M68.3,343.4h2.8M337.9,343.4h-2.8M68.3,339.85h2.8M337.9,339.85h-2.8M68.3,336.94h2.8M337.9,336.94h-2.8M68.3,334.48h2.8M337.9,334.48h-2.8M68.3,332.36h2.8M337.9,332.36h-2.8M68.3,330.48h2.8M337.9,330.48h-2.8M68.3,328.8h5.4M337.9,328.8h-5.4M68.3,317.75h2.8M337.9,317.75h-2.8M68.3,311.29h2.8M337.9,311.29h-2.8M68.3,306.7h2.8M337.9,306.7h-2.8M68.3,303.15h2.8M337.9,303.15h-2.8M68.3,300.24h2.8M337.9,300.24h-2.8M68.3,297.78h2.8M337.9,297.78h-2.8M68.3,295.66h2.8M337.9,295.66h-2.8M68.3,293.78h2.8M337.9,293.78h-2.8M68.3,292.1h5.4M337.9,292.1h-5.4M68.3,281.05h2.8M337.9,281.05h-2.8M68.3,274.59h2.8M337.9,274.59h-2.8M68.3,270h2.8M337.9,270h-2.8M68.3,266.45h2.8M337.9,266.45h-2.8M68.3,263.54h2.8M337.9,263.54h-2.8M68.3,261.08h2.8M337.9,261.08h-2.8M68.3,258.96h2.8M337.9,258.96h-2.8M68.3,257.08h2.8M337.9,257.08h-2.8M68.3,255.4h5.4M337.9,255.4h-5.4M68.3,244.35h2.8M337.9,244.35h-2.8M68.3,237.89h2.8M337.9,237.89h-2.8" stroke="#000" stroke-width="1.35" fill="none"/>
<path d="M123.7,390.5v-3.2M123.7,237.8v3.2M236.3,390.5v-3.2M236.3,237.8v3.2" stroke="#000" stroke-width="1.7" fill="none"/>
<rect x="68.3" y="237.8" width="269.6" height="152.7" fill="none" stroke="#000" stroke-width="1.5"/>
<text transform="translate(124.1,407.4) scale(1,1.0)" font-size="13.6" text-anchor="middle">100</text>
<text transform="translate(236.7,407.4) scale(1,1.0)" font-size="13.6" text-anchor="middle">1000</text>
<text x="203.1" y="420.7" font-size="13.0" text-anchor="middle">multipole</text>
<text transform="translate(65.7,259.9) scale(1,0.98)" font-size="13.4" text-anchor="end">10000</text>
<text transform="translate(65.7,296.6) scale(1,0.98)" font-size="13.4" text-anchor="end">1000</text>
<text transform="translate(65.7,333.3) scale(1,0.98)" font-size="13.4" text-anchor="end">100</text>
<text transform="translate(65.7,370) scale(1,0.98)" font-size="13.4" text-anchor="end">10</text>
<text transform="translate(21.9,314.15) rotate(-90)" font-size="13.0" text-anchor="middle">C<tspan font-size="8" dy="2.6">l</tspan><tspan dy="-2.6"> (Jy</tspan><tspan font-size="8" dy="-5.2">2</tspan><tspan dy="5.2">/sr)</tspan></text>
<rect x="253.7" y="247.8" width="77.8" height="14.5" fill="#fff" stroke="#666" stroke-width="0.75"/>
<text x="256.7" y="258.3" font-size="9.8">850 µm/353 GHz</text>
</g>
<g id="panel4">
<clipPath id="clip4"><rect x="426.8" y="237.8" width="269" height="152.7"/></clipPath>
<g clip-path="url(#clip4)" fill="none" stroke-linejoin="round">
<path d="M427,244.75 L428.93,244.55 L430.87,244.37 L432.8,244.22 L434.73,244.11 L436.67,244.02 L438.6,243.96 L440.53,243.92 L442.46,243.91 L444.4,243.93 L446.33,243.98 L448.26,244.05 L450.2,244.14 L452.13,244.26 L454.06,244.41 L456,244.58 L457.93,244.77 L459.86,244.98 L461.8,245.22 L463.73,245.47 L465.66,245.75 L467.59,246.05 L469.53,246.37 L471.46,246.71 L473.39,247.07 L475.33,247.45 L477.26,247.84 L479.19,248.26 L481.13,248.69 L483.06,249.14 L484.99,249.6 L486.93,250.08 L488.86,250.58 L490.79,251.09 L492.73,251.61 L494.66,252.15 L496.59,252.71 L498.52,253.27 L500.46,253.85 L502.39,254.44 L504.32,255.05 L506.26,255.67 L508.19,256.3 L510.12,256.94 L512.06,257.6 L513.99,258.26 L515.92,258.95 L517.86,259.64 L519.79,260.34 L521.72,261.06 L523.65,261.79 L525.59,262.53 L527.52,263.28 L529.45,264.05 L531.39,264.83 L533.32,265.62 L535.25,266.42 L537.19,267.23 L539.12,268.05 L541.05,268.89 L542.99,269.73 L544.92,270.59 L546.85,271.46 L548.78,272.34 L550.72,273.23 L552.65,274.13 L554.58,275.04 L556.52,275.97 L558.45,276.89 L560.38,277.83 L562.32,278.78 L564.25,279.72 L566.18,280.68 L568.12,281.64 L570.05,282.6 L571.98,283.56 L573.92,284.53 L575.85,285.5 L577.78,286.47 L579.71,287.44 L581.65,288.4 L583.58,289.37 L585.51,290.33 L587.45,291.28 L589.38,292.24 L591.31,293.18 L593.25,294.13 L595.18,295.06 L597.11,295.99 L599.05,296.9 L600.98,297.81 L602.91,298.71 L604.84,299.6 L606.78,300.47 L608.71,301.34 L610.64,302.19 L612.58,303.02 L614.51,303.84 L616.44,304.65 L618.38,305.44 L620.31,306.22 L622.24,306.99 L624.18,307.74 L626.11,308.48 L628.04,309.21 L629.97,309.93 L631.91,310.64 L633.84,311.33 L635.77,312.02 L637.71,312.7 L639.64,313.37 L641.57,314.03 L643.51,314.68 L645.44,315.33 L647.37,315.96 L649.31,316.59 L651.24,317.22 L653.17,317.83 L655.11,318.45 L657.04,319.05 L658.97,319.65 L660.9,320.25 L662.84,320.85 L664.77,321.44 L666.7,322.02 L668.64,322.61 L670.57,323.19 L672.5,323.77 L674.44,324.35 L676.37,324.93 L678.3,325.51 L680.24,326.09 L682.17,326.67 L684.1,327.25 L686.03,327.83 L687.97,328.41 L689.9,329 L691.83,329.58 L693.77,330.18 L695.7,330.77" stroke="#000000" stroke-width="1.5"/>
<path d="M427,273.79 L428.93,274.45 L430.87,275.11 L432.8,275.75 L434.73,276.39 L436.67,277.02 L438.6,277.64 L440.53,278.26 L442.46,278.87 L444.4,279.47 L446.33,280.07 L448.26,280.66 L450.2,281.25 L452.13,281.83 L454.06,282.4 L456,282.97 L457.93,283.54 L459.86,284.1 L461.8,284.65 L463.73,285.21 L465.66,285.76 L467.59,286.31 L469.53,286.85 L471.46,287.39 L473.39,287.93 L475.33,288.47 L477.26,289 L479.19,289.54 L481.13,290.07 L483.06,290.6 L484.99,291.13 L486.93,291.66 L488.86,292.19 L490.79,292.72 L492.73,293.25 L494.66,293.79 L496.59,294.32 L498.52,294.85 L500.46,295.39 L502.39,295.92 L504.32,296.46 L506.26,297 L508.19,297.54 L510.12,298.09 L512.06,298.64 L513.99,299.19 L515.92,299.75 L517.86,300.31 L519.79,300.88 L521.72,301.46 L523.65,302.03 L525.59,302.62 L527.52,303.21 L529.45,303.81 L531.39,304.42 L533.32,305.03 L535.25,305.65 L537.19,306.28 L539.12,306.93 L541.05,307.58 L542.99,308.23 L544.92,308.9 L546.85,309.58 L548.78,310.26 L550.72,310.93 L552.65,311.6 L554.58,312.27 L556.52,312.92 L558.45,313.56 L560.38,314.19 L562.32,314.79 L564.25,315.37 L566.18,315.93 L568.12,316.47 L570.05,317 L571.98,317.52 L573.92,318.03 L575.85,318.52 L577.78,319.01 L579.71,319.5 L581.65,319.98 L583.58,320.46 L585.51,320.95 L587.45,321.44 L589.38,321.93 L591.31,322.43 L593.25,322.95 L595.18,323.47 L597.11,324.01 L599.05,324.57 L600.98,325.14 L602.91,325.74 L604.84,326.36 L606.78,327 L608.71,327.67 L610.64,328.37 L612.58,329.1 L614.51,329.86 L616.44,330.65 L618.38,331.47 L620.31,332.32 L622.24,333.2 L624.18,334.09 L626.11,335.01 L628.04,335.95 L629.97,336.9 L631.91,337.88 L633.84,338.86 L635.77,339.86 L637.71,340.87 L639.64,341.89 L641.57,342.92 L643.51,343.97 L645.44,345.02 L647.37,346.09 L649.31,347.17 L651.24,348.26 L653.17,349.37 L655.11,350.5 L657.04,351.64 L658.97,352.8 L660.9,353.98 L662.84,355.18 L664.77,356.4 L666.7,357.64 L668.64,358.9 L670.57,360.19 L672.5,361.5 L674.44,362.83 L676.37,364.19 L678.3,365.58 L680.24,366.99 L682.17,368.43 L684.1,369.9 L686.03,371.4 L687.97,372.93 L689.9,374.49 L691.83,376.08 L693.77,377.7 L695.7,379.36" stroke="#ff0000" stroke-width="1.4" stroke-dasharray="1.4 2.0"/>
<path d="M427,265.62 L428.93,265.69 L430.87,265.78 L432.8,265.89 L434.73,266.02 L436.67,266.18 L438.6,266.35 L440.53,266.54 L442.46,266.75 L444.4,266.99 L446.33,267.24 L448.26,267.51 L450.2,267.8 L452.13,268.1 L454.06,268.43 L456,268.77 L457.93,269.13 L459.86,269.51 L461.8,269.9 L463.73,270.31 L465.66,270.74 L467.59,271.18 L469.53,271.64 L471.46,272.12 L473.39,272.61 L475.33,273.11 L477.26,273.64 L479.19,274.17 L481.13,274.72 L483.06,275.28 L484.99,275.86 L486.93,276.45 L488.86,277.06 L490.79,277.67 L492.73,278.3 L494.66,278.95 L496.59,279.6 L498.52,280.27 L500.46,280.95 L502.39,281.64 L504.32,282.34 L506.26,283.05 L508.19,283.77 L510.12,284.51 L512.06,285.25 L513.99,286.01 L515.92,286.78 L517.86,287.56 L519.79,288.36 L521.72,289.17 L523.65,289.99 L525.59,290.82 L527.52,291.67 L529.45,292.54 L531.39,293.41 L533.32,294.3 L535.25,295.21 L537.19,296.13 L539.12,297.06 L541.05,298.02 L542.99,298.98 L544.92,299.96 L546.85,300.96 L548.78,301.96 L550.72,302.97 L552.65,303.98 L554.58,304.98 L556.52,305.97 L558.45,306.95 L560.38,307.9 L562.32,308.82 L564.25,309.71 L566.18,310.57 L568.12,311.4 L570.05,312.2 L571.98,312.97 L573.92,313.72 L575.85,314.44 L577.78,315.13 L579.71,315.8 L581.65,316.44 L583.58,317.07 L585.51,317.67 L587.45,318.25 L589.38,318.81 L591.31,319.36 L593.25,319.88 L595.18,320.4 L597.11,320.89 L599.05,321.37 L600.98,321.84 L602.91,322.3 L604.84,322.75 L606.78,323.18 L608.71,323.6 L610.64,324.01 L612.58,324.41 L614.51,324.81 L616.44,325.19 L618.38,325.57 L620.31,325.93 L622.24,326.29 L624.18,326.65 L626.11,326.99 L628.04,327.34 L629.97,327.67 L631.91,328 L633.84,328.33 L635.77,328.65 L637.71,328.97 L639.64,329.29 L641.57,329.61 L643.51,329.93 L645.44,330.25 L647.37,330.57 L649.31,330.9 L651.24,331.23 L653.17,331.58 L655.11,331.93 L657.04,332.29 L658.97,332.67 L660.9,333.06 L662.84,333.47 L664.77,333.9 L666.7,334.34 L668.64,334.8 L670.57,335.29 L672.5,335.8 L674.44,336.34 L676.37,336.9 L678.3,337.49 L680.24,338.11 L682.17,338.76 L684.1,339.44 L686.03,340.16 L687.97,340.92 L689.9,341.71 L691.83,342.54 L693.77,343.41 L695.7,344.32" stroke="#00ff00" stroke-width="1.5" stroke-dasharray="5.8 4.4"/>
<path d="M427,258.09 L428.93,257.73 L430.87,257.4 L432.8,257.11 L434.73,256.84 L436.67,256.6 L438.6,256.38 L440.53,256.2 L442.46,256.04 L444.4,255.91 L446.33,255.81 L448.26,255.73 L450.2,255.68 L452.13,255.66 L454.06,255.66 L456,255.69 L457.93,255.75 L459.86,255.83 L461.8,255.94 L463.73,256.07 L465.66,256.22 L467.59,256.4 L469.53,256.61 L471.46,256.84 L473.39,257.09 L475.33,257.37 L477.26,257.67 L479.19,257.99 L481.13,258.34 L483.06,258.71 L484.99,259.1 L486.93,259.52 L488.86,259.95 L490.79,260.41 L492.73,260.89 L494.66,261.39 L496.59,261.92 L498.52,262.46 L500.46,263.03 L502.39,263.61 L504.32,264.22 L506.26,264.84 L508.19,265.49 L510.12,266.15 L512.06,266.84 L513.99,267.54 L515.92,268.26 L517.86,269.01 L519.79,269.76 L521.72,270.54 L523.65,271.34 L525.59,272.15 L527.52,272.98 L529.45,273.83 L531.39,274.7 L533.32,275.58 L535.25,276.48 L537.19,277.4 L539.12,278.33 L541.05,279.28 L542.99,280.24 L544.92,281.22 L546.85,282.21 L548.78,283.22 L550.72,284.25 L552.65,285.28 L554.58,286.34 L556.52,287.4 L558.45,288.49 L560.38,289.58 L562.32,290.69 L564.25,291.81 L566.18,292.94 L568.12,294.09 L570.05,295.24 L571.98,296.4 L573.92,297.56 L575.85,298.74 L577.78,299.91 L579.71,301.09 L581.65,302.27 L583.58,303.45 L585.51,304.64 L587.45,305.82 L589.38,306.99 L591.31,308.16 L593.25,309.33 L595.18,310.49 L597.11,311.64 L599.05,312.79 L600.98,313.92 L602.91,315.04 L604.84,316.15 L606.78,317.25 L608.71,318.33 L610.64,319.39 L612.58,320.44 L614.51,321.47 L616.44,322.47 L618.38,323.46 L620.31,324.43 L622.24,325.38 L624.18,326.31 L626.11,327.22 L628.04,328.11 L629.97,328.98 L631.91,329.82 L633.84,330.65 L635.77,331.45 L637.71,332.22 L639.64,332.98 L641.57,333.71 L643.51,334.42 L645.44,335.1 L647.37,335.77 L649.31,336.41 L651.24,337.03 L653.17,337.63 L655.11,338.2 L657.04,338.76 L658.97,339.29 L660.9,339.8 L662.84,340.3 L664.77,340.77 L666.7,341.22 L668.64,341.65 L670.57,342.06 L672.5,342.45 L674.44,342.82 L676.37,343.17 L678.3,343.51 L680.24,343.82 L682.17,344.12 L684.1,344.39 L686.03,344.65 L687.97,344.89 L689.9,345.11 L691.83,345.32 L693.77,345.5 L695.7,345.67" stroke="#0000ff" stroke-width="1.5" stroke-dasharray="5.8 2.3 1.5 2.6"/>
<path d="M427,279.82 L428.93,279.48 L430.87,279.15 L432.8,278.84 L434.73,278.54 L436.67,278.26 L438.6,278 L440.53,277.76 L442.46,277.53 L444.4,277.32 L446.33,277.13 L448.26,276.96 L450.2,276.8 L452.13,276.67 L454.06,276.55 L456,276.46 L457.93,276.38 L459.86,276.32 L461.8,276.29 L463.73,276.27 L465.66,276.27 L467.59,276.3 L469.53,276.34 L471.46,276.41 L473.39,276.5 L475.33,276.61 L477.26,276.74 L479.19,276.89 L481.13,277.07 L483.06,277.27 L484.99,277.49 L486.93,277.74 L488.86,278.01 L490.79,278.3 L492.73,278.61 L494.66,278.95 L496.59,279.32 L498.52,279.71 L500.46,280.12 L502.39,280.56 L504.32,281.03 L506.26,281.52 L508.19,282.04 L510.12,282.58 L512.06,283.14 L513.99,283.73 L515.92,284.35 L517.86,284.99 L519.79,285.66 L521.72,286.35 L523.65,287.06 L525.59,287.8 L527.52,288.56 L529.45,289.35 L531.39,290.16 L533.32,290.99 L535.25,291.85 L537.19,292.73 L539.12,293.63 L541.05,294.55 L542.99,295.5 L544.92,296.47 L546.85,297.46 L548.78,298.46 L550.72,299.48 L552.65,300.51 L554.58,301.55 L556.52,302.6 L558.45,303.65 L560.38,304.7 L562.32,305.75 L564.25,306.8 L566.18,307.84 L568.12,308.89 L570.05,309.94 L571.98,310.99 L573.92,312.04 L575.85,313.1 L577.78,314.16 L579.71,315.23 L581.65,316.3 L583.58,317.39 L585.51,318.48 L587.45,319.58 L589.38,320.69 L591.31,321.82 L593.25,322.96 L595.18,324.11 L597.11,325.27 L599.05,326.46 L600.98,327.66 L602.91,328.87 L604.84,330.1 L606.78,331.34 L608.71,332.59 L610.64,333.85 L612.58,335.11 L614.51,336.38 L616.44,337.65 L618.38,338.92 L620.31,340.2 L622.24,341.47 L624.18,342.73 L626.11,343.99 L628.04,345.24 L629.97,346.49 L631.91,347.72 L633.84,348.94 L635.77,350.15 L637.71,351.34 L639.64,352.52 L641.57,353.68 L643.51,354.82 L645.44,355.94 L647.37,357.04 L649.31,358.12 L651.24,359.17 L653.17,360.21 L655.11,361.22 L657.04,362.2 L658.97,363.16 L660.9,364.1 L662.84,365 L664.77,365.88 L666.7,366.73 L668.64,367.55 L670.57,368.34 L672.5,369.09 L674.44,369.82 L676.37,370.51 L678.3,371.17 L680.24,371.79 L682.17,372.38 L684.1,372.92 L686.03,373.44 L687.97,373.91 L689.9,374.34 L691.83,374.73 L693.77,375.09 L695.7,375.4" stroke="#ff00ff" stroke-width="1.5" stroke-dasharray="7 2.4 1.3 2 1.3 2 1.3 2.4"/>
</g>
<path d="M437.19,390.5v-1.6M437.19,237.8v1.6M448.1,390.5v-1.6M448.1,237.8v1.6M457.02,390.5v-1.6M457.02,237.8v1.6M464.56,390.5v-1.6M464.56,237.8v1.6M471.09,390.5v-1.6M471.09,237.8v1.6M476.85,390.5v-1.6M476.85,237.8v1.6M515.9,390.5v-1.6M515.9,237.8v1.6M535.72,390.5v-1.6M535.72,237.8v1.6M549.79,390.5v-1.6M549.79,237.8v1.6M560.7,390.5v-1.6M560.7,237.8v1.6M569.62,390.5v-1.6M569.62,237.8v1.6M577.16,390.5v-1.6M577.16,237.8v1.6M583.69,390.5v-1.6M583.69,237.8v1.6M589.45,390.5v-1.6M589.45,237.8v1.6M628.5,390.5v-1.6M628.5,237.8v1.6M648.32,390.5v-1.6M648.32,237.8v1.6M662.39,390.5v-1.6M662.39,237.8v1.6M673.3,390.5v-1.6M673.3,237.8v1.6M682.22,390.5v-1.6M682.22,237.8v1.6M689.76,390.5v-1.6M689.76,237.8v1.6M426.8,390.1h5.4M695.8,390.1h-5.4M426.8,378.72h2.8M695.8,378.72h-2.8M426.8,372.06h2.8M695.8,372.06h-2.8M426.8,367.34h2.8M695.8,367.34h-2.8M426.8,363.68h2.8M695.8,363.68h-2.8M426.8,360.69h2.8M695.8,360.69h-2.8M426.8,358.16h2.8M695.8,358.16h-2.8M426.8,355.96h2.8M695.8,355.96h-2.8M426.8,354.03h2.8M695.8,354.03h-2.8M426.8,352.3h5.4M695.8,352.3h-5.4M426.8,340.92h2.8M695.8,340.92h-2.8M426.8,334.26h2.8M695.8,334.26h-2.8M426.8,329.54h2.8M695.8,329.54h-2.8M426.8,325.88h2.8M695.8,325.88h-2.8M426.8,322.89h2.8M695.8,322.89h-2.8M426.8,320.36h2.8M695.8,320.36h-2.8M426.8,318.16h2.8M695.8,318.16h-2.8M426.8,316.23h2.8M695.8,316.23h-2.8M426.8,314.5h5.4M695.8,314.5h-5.4M426.8,303.12h2.8M695.8,303.12h-2.8M426.8,296.46h2.8M695.8,296.46h-2.8M426.8,291.74h2.8M695.8,291.74h-2.8M426.8,288.08h2.8M695.8,288.08h-2.8M426.8,285.09h2.8M695.8,285.09h-2.8M426.8,282.56h2.8M695.8,282.56h-2.8M426.8,280.36h2.8M695.8,280.36h-2.8M426.8,278.43h2.8M695.8,278.43h-2.8M426.8,276.7h5.4M695.8,276.7h-5.4M426.8,265.32h2.8M695.8,265.32h-2.8M426.8,258.66h2.8M695.8,258.66h-2.8M426.8,253.94h2.8M695.8,253.94h-2.8M426.8,250.28h2.8M695.8,250.28h-2.8M426.8,247.29h2.8M695.8,247.29h-2.8M426.8,244.76h2.8M695.8,244.76h-2.8M426.8,242.56h2.8M695.8,242.56h-2.8M426.8,240.63h2.8M695.8,240.63h-2.8M426.8,238.9h5.4M695.8,238.9h-5.4" stroke="#000" stroke-width="1.35" fill="none"/>
<path d="M482,390.5v-3.2M482,237.8v3.2M594.6,390.5v-3.2M594.6,237.8v3.2" stroke="#000" stroke-width="1.7" fill="none"/>
<rect x="426.8" y="237.8" width="269" height="152.7" fill="none" stroke="#000" stroke-width="1.5"/>
<text transform="translate(482.4,407.4) scale(1,1.0)" font-size="13.6" text-anchor="middle">100</text>
<text transform="translate(595,407.4) scale(1,1.0)" font-size="13.6" text-anchor="middle">1000</text>
<text x="561.3" y="420.7" font-size="13.0" text-anchor="middle">multipole</text>
<text transform="translate(423.4,246) scale(1,0.98)" font-size="13.4" text-anchor="end">1000.0</text>
<text transform="translate(423.4,281.2) scale(1,0.98)" font-size="13.4" text-anchor="end">100.0</text>
<text transform="translate(423.4,319) scale(1,0.98)" font-size="13.4" text-anchor="end">10.0</text>
<text transform="translate(423.4,356.8) scale(1,0.98)" font-size="13.4" text-anchor="end">1.0</text>
<text transform="translate(423.4,390.8) scale(1,0.98)" font-size="13.4" text-anchor="end">0.1</text>
<text transform="translate(377.3,314.15) rotate(-90)" font-size="13.0" text-anchor="middle">C<tspan font-size="8" dy="2.6">l</tspan><tspan dy="-2.6"> (Jy</tspan><tspan font-size="8" dy="-5.2">2</tspan><tspan dy="5.2">/sr)</tspan></text>
<rect x="607" y="248" width="82.7" height="14.3" fill="#fff" stroke="#666" stroke-width="0.75"/>
<text x="610" y="258.3" font-size="9.8">1380 µm/217 GHz</text>
</g>
</svg></body></html>
